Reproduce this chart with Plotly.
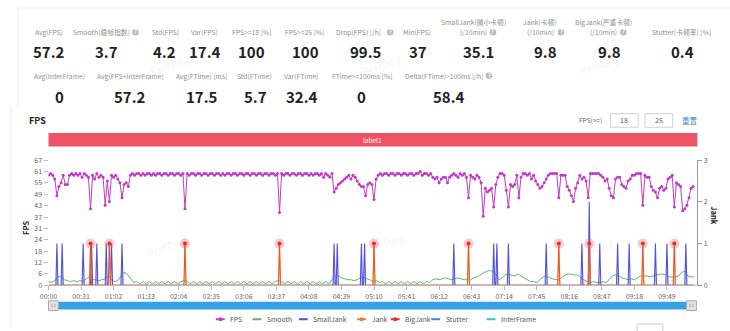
import plotly.graph_objects as go

W, H = 730, 331
def X(px): return px / W
def Y(py): return 1 - py / H

FONT = "Noto Sans CJK SC, Noto Sans, sans-serif"

# ---------------- data ----------------
fps_step = 2  # seconds between FPS samples
fps = [
    59, 60, 59, 57, 48, 53, 55, 59, 54, 54,
    59, 60, 59, 60, 59, 60, 58, 60, 59, 58,
    41, 59, 57, 60, 58, 59, 58, 43, 56, 45,
    59, 58, 59, 57, 55, 47, 54, 55, 53, 59,
    60, 59, 60, 60, 59, 60, 59, 60, 60, 59,
    60, 59, 60, 60, 59, 60, 60, 59, 60, 60,
    59, 60, 60, 59, 60, 41, 60, 59, 60, 60,
    59, 60, 60, 59, 60, 60, 59, 60, 60, 59,
    60, 60, 59, 60, 59, 60, 60, 59, 60, 60,
    59, 60, 60, 59, 60, 60, 59, 60, 60, 59,
    60, 60, 59, 60, 60, 59, 60, 60, 59, 60,
    39, 60, 59, 60, 60, 59, 60, 60, 59, 60,
    60, 59, 60, 60, 59, 60, 59, 60, 60, 59,
    60, 58, 60, 59, 58, 60, 50, 52, 54, 55,
    56, 57, 58, 59, 57, 59, 58, 56, 54, 53,
    53, 48, 54, 55, 54, 46, 57, 59, 60, 59,
    60, 60, 59, 60, 60, 59, 60, 60, 59, 60,
    60, 59, 60, 60, 59, 60, 60, 61, 59, 60,
    60, 59, 60, 58, 57, 58, 55, 57, 58, 58,
    55, 58, 59, 60, 59, 58, 60, 59, 60, 58,
    47, 59, 58, 57, 59, 58, 55, 37, 52, 50,
    51, 52, 42, 54, 58, 60, 60, 59, 51, 42,
    54, 53, 54, 59, 47, 58, 60, 60, 59, 60,
    57, 59, 56, 54, 52, 53, 55, 57, 59, 60,
    60, 60, 60, 47, 59, 59, 59, 53, 51, 48,
    45, 52, 55, 59, 57, 58, 56, 47, 60, 60,
    60, 60, 60, 59, 58, 56, 57, 52, 48, 47,
    57, 58, 58, 54, 53, 52, 56, 57, 59, 59,
    60, 60, 60, 43, 59, 58, 58, 53, 51, 50,
    47, 52, 53, 51, 52, 57, 58, 59, 42, 55,
    54, 53, 40, 41, 43, 47, 52, 53,
]

smooth_step = 3
smooth = [
    2, 1.5, 2.5, 4.5, 5, 3, 2.5, 2, 2.5, 2,
    2.5, 2, 3.5, 4.5, 3, 3, 2.5, 3, 3.5, 5,
    3, 2, 2.5, 5, 7, 6, 4, 1.5, 2, 0.8,
    2, 0.8, 2, 0.8, 2, 0.8, 2, 0.8, 2, 0.8,
    2, 0.8, 2, 2.5, 2, 0.8, 2, 0.8, 2, 0.8,
    2, 0.8, 2, 0.8, 2, 0.8, 2, 0.8, 2, 0.8,
    2, 0.8, 2, 0.8, 2, 0.8, 2, 0.8, 2, 0.8,
    2, 0.8, 2, 2.5, 2, 0.8, 2, 0.8, 2, 0.8,
    2, 0.8, 2, 0.8, 2, 0.8, 2, 0.8, 2, 0.8,
    3, 5.5, 5, 4, 3.5, 3, 3, 2.5, 3, 4,
    4.5, 3.5, 3, 2, 2.5, 1.5, 2, 0.8, 2, 0.8,
    2, 0.8, 2, 0.8, 2, 0.8, 2, 0.8, 2, 0.8,
    2, 1.5, 3, 3.5, 3, 3.5, 4, 3.5, 3, 3.5,
    4, 3.5, 3, 3.5, 3, 4, 4.5, 5.5, 6.5, 7.5,
    8, 7.5, 6, 3, 4, 5.5, 6, 5.5, 5, 6,
    5, 4, 3, 2, 2, 1.5, 3, 4.5, 5, 4,
    3.5, 3, 3, 4.5, 5.5, 6, 6, 5.5, 5.5, 4,
    3, 2, 1.5, 2, 1.5, 1.5, 2, 1.5, 3, 5,
    5.5, 5, 4, 3.5, 3, 3.5, 3, 4, 5, 5,
    5, 4.5, 5, 5.5, 6, 6, 5.5, 4.5, 4.5, 4.5,
    5, 7, 7.5, 5, 4.5, 4.5,
]

duration = 615
smalljank_times = [8, 13, 33, 41, 46, 55, 60, 70, 272, 275, 298, 301, 386, 424, 427,
                   438, 474, 508, 515, 525, 542, 553, 578, 589, 607]
smalljank_counts = [1, 1, 1, 1, 1, 1, 1, 1, 1, 1, 1, 1, 1, 1, 1,
                    1, 1, 1, 2, 1, 1, 1, 1, 1, 1]
bigjank_times = [40, 58, 130, 220, 310, 400, 486, 515, 566, 596]

xtick_secs = [0, 31, 62, 93, 124, 155, 186, 217, 248, 279, 310, 341, 372, 403, 434,
              465, 496, 527, 558, 589]
xtick_labels = ["00:00", "00:31", "01:02", "01:33", "02:04", "02:35", "03:06", "03:37",
                "04:08", "04:39", "05:10", "05:41", "06:12", "06:43", "07:14", "07:45",
                "08:16", "08:47", "09:18", "09:49"]
fps_tick_labels = ["0", "6", "12", "18", "24", "31", "37", "43", "49", "55", "61", "67"]
fps_axis_max = 67.1
jank_tick_labels = ["0", "1", "2", "3"]

row1_labels = ["Avg(FPS)", "Smooth(稳帧指数)", "Std(FPS)", "Var(FPS)", "FPS>=18 [%]",
               "FPS>=25 [%]", "Drop(FPS) [/h]", "Min(FPS)",
               "SmallJank(微小卡顿)<br>(/10min)", "Jank(卡顿)<br>(/10min)",
               "BigJank(严重卡顿)<br>(/10min)", "Stutter(卡顿率) [%]"]
row1_values = ["57.2", "3.7", "4.2", "17.4", "100", "100", "99.5", "37",
               "35.1", "9.8", "9.8", "0.4"]
row2_labels = ["Avg(InterFrame)", "Avg(FPS+InterFrame)", "Avg(FTime) [ms]", "Std(FTime)",
               "Var(FTime)", "FTime>=100ms [%]", "Delta(FTime)>100ms [/h]"]
row2_values = ["0", "57.2", "17.5", "5.7", "32.4", "0", "58.4"]

legend_names = ["FPS", "Smooth", "SmallJank", "Jank", "BigJank", "Stutter", "InterFrame"]

# ---------------- styles / positions ----------------
C_FPS = "#c23bc4"
C_SMOOTH = "#5cb85c"
C_SJ = "#5252dc"
C_JANK = "#f07a2a"
C_BJ = "#e52d2d"
C_STUT = "#3f7ff0"
C_INTER = "#2ec7dc"
legend_colors = [C_FPS, C_SMOOTH, C_SJ, C_JANK, C_BJ, C_STUT, C_INTER]
legend_marker = [True, False, False, True, True, False, False]
legend_icon_x = [214, 251, 298, 357, 391, 432, 488]

row1_lx = [40, 94, 158, 198, 246, 300, 354, 413, 470, 538, 602, 681]
row1_vx = [40, 99, 157, 198, 246, 300, 361, 414, 475, 543, 608, 682]
row2_lx = [51, 123, 195, 249, 296, 357, 440]
row2_vx = [51, 123, 195, 250, 297, 357, 445]
help_icons = [(128, 27), (386, 27), (490, 27), (559, 27), (622, 27), (486, 72)]

# ---------------- build series ----------------
fps_t = [i * fps_step for i in range(len(fps))]
smooth_t = [i * smooth_step for i in range(len(smooth))]
grid = list(range(duration + 1))
sj = [0] * len(grid)
for t, n in zip(smalljank_times, smalljank_counts):
    sj[t] = n
jk = [0] * len(grid)
for t in bigjank_times:
    jk[t] = 1

fig = go.Figure()
fig.add_trace(go.Scatter(x=smooth_t, y=smooth, mode="lines", name="Smooth",
                         line=dict(color=C_SMOOTH, width=1), yaxis="y"))
fig.add_trace(go.Scatter(x=grid, y=sj, mode="lines", name="SmallJank",
                         line=dict(color=C_SJ, width=1.1), fill="tozeroy",
                         fillcolor="rgba(82,82,220,0.22)", yaxis="y2"))
fig.add_trace(go.Scatter(x=grid, y=jk, mode="lines", name="Jank",
                         line=dict(color=C_JANK, width=1.2), yaxis="y2"))
fig.add_trace(go.Scatter(x=grid, y=jk, mode="lines", name="BigJank",
                         line=dict(color="rgba(229,45,45,0.5)", width=0.8), yaxis="y2"))
fig.add_trace(go.Scatter(x=bigjank_times, y=[jk[t] for t in bigjank_times], mode="markers",
                         marker=dict(size=10, color="rgba(240,90,90,0.33)"),
                         yaxis="y2", hoverinfo="skip"))
fig.add_trace(go.Scatter(x=bigjank_times, y=[jk[t] for t in bigjank_times], mode="markers",
                         marker=dict(size=4, color=C_BJ), yaxis="y2"))
fig.add_trace(go.Scatter(x=fps_t, y=fps, mode="lines+markers", name="FPS",
                         line=dict(color=C_FPS, width=1),
                         marker=dict(size=3, color=C_FPS), yaxis="y"))

axis_font = dict(family=FONT, size=7, color="#666")
fig.update_layout(
    width=W, height=H, margin=dict(l=0, r=0, t=0, b=0),
    paper_bgcolor="white", plot_bgcolor="white", showlegend=False,
    font=dict(family=FONT),
    xaxis=dict(domain=[X(40), X(697)], range=[0, 618], tickvals=xtick_secs,
               ticktext=xtick_labels, ticks="outside", ticklen=4, tickcolor="#bbb",
               showline=True, linecolor="#bbb", showgrid=False, zeroline=False,
               tickfont=axis_font),
    yaxis=dict(domain=[Y(288), Y(159)], range=[0, fps_axis_max],
               tickvals=[fps_axis_max / 11 * k for k in range(12)],
               ticktext=fps_tick_labels, ticks="outside", ticklen=4, tickcolor="#bbb",
               showline=False, showgrid=False, zeroline=False, tickfont=axis_font),
    yaxis2=dict(overlaying="y", side="right", range=[0, 3], tickvals=[0, 1, 2, 3],
                ticktext=jank_tick_labels, ticks="outside", ticklen=4, tickcolor="#999",
                showline=True, linecolor="#999", showgrid=False, zeroline=False,
                tickfont=axis_font),
)

shapes = []
ann = []

def text(x, y, s, size=7.5, color="#888", bold=False, anchor="center", angle=0):
    ann.append(dict(x=X(x), y=Y(y), xref="paper", yref="paper", text=(f"<b>{s}</b>" if bold else s),
                    showarrow=False, xanchor=anchor, yanchor="middle", textangle=angle,
                    font=dict(family=FONT, size=size, color=color)))

# card borders
shapes.append(dict(type="line", xref="paper", yref="paper", x0=X(9), x1=X(730), y0=Y(2), y1=Y(2),
                   line=dict(color="#ececec", width=1)))
shapes.append(dict(type="line", xref="paper", yref="paper", x0=X(9), x1=X(9), y0=Y(2), y1=Y(104),
                   line=dict(color="#ececec", width=1)))
shapes.append(dict(type="line", xref="paper", yref="paper", x0=X(2), x1=X(2), y0=Y(104), y1=Y(331),
                   line=dict(color="#ececec", width=1)))

# stats
LBL = "#8f8f8f"
for lab, lx, val, vx in zip(row1_labels, row1_lx, row1_values, row1_vx):
    if "<br>" in lab:
        a, b = lab.split("<br>")
        text(lx, 17, a, size=6.8, color=LBL)
        text(lx, 27, b, size=6.8, color=LBL)
    else:
        text(lx, 27, lab, size=6.8, color=LBL)
    text(vx, 47, val, size=15, color="#222", bold=True)
for lab, lx, val, vx in zip(row2_labels, row2_lx, row2_values, row2_vx):
    text(lx, 72, lab, size=6.8, color=LBL)
    text(vx, 93, val, size=15, color="#222", bold=True)
for cx, cy in help_icons:
    shapes.append(dict(type="circle", xref="paper", yref="paper", x0=X(cx - 3.3), x1=X(cx + 3.3),
                       y0=Y(cy + 3.3), y1=Y(cy - 3.3), fillcolor="#b3b8c6", line=dict(width=0)))
    text(cx, cy, "?", size=5.5, color="white", bold=True)

# watermarks
for wx, wy in [(163, 60), (378, 60), (598, 60), (160, 247), (380, 244), (592, 250)]:
    text(wx, wy, "PerfDog", size=11, color="rgba(0,0,0,0.07)", angle=-20)

# chart header
text(18, 118, "FPS", size=9, color="#222", bold=True, anchor="left")
text(589, 118, "FPS(>=)", size=6.5, color="#666")
for bx0, bx1, s in [(609, 637, "18"), (644, 672, "25")]:
    shapes.append(dict(type="rect", xref="paper", yref="paper", x0=X(bx0), x1=X(bx1),
                       y0=Y(125), y1=Y(111), line=dict(color="#d0d0d0", width=1), fillcolor="white"))
    text((bx0 + bx1) / 2, 118, s, size=7, color="#555")
text(689, 118, "重置", size=7.5, color="#4a78c8")

# label bar
shapes.append(dict(type="rect", xref="paper", yref="paper", x0=X(40), x1=X(697), y0=Y(145), y1=Y(131),
                   fillcolor="#ee5465", line=dict(width=0)))
text(368, 138, "label1", size=6.5, color="white")

# axis titles
text(16, 229, "FPS", size=7.5, color="#222", bold=True, angle=-90)
text(714, 216, "Jank", size=7.5, color="#222", bold=True, angle=90)

# data zoom slider
shapes.append(dict(type="rect", xref="paper", yref="paper", x0=X(42), x1=X(692), y0=Y(313), y1=Y(305),
                   fillcolor="#35a2e8", line=dict(width=0)))
for hx in (45, 691):
    shapes.append(dict(type="rect", xref="paper", yref="paper", x0=X(hx - 5), x1=X(hx + 5),
                       y0=Y(314), y1=Y(304), fillcolor="#e4e4e4", line=dict(color="#aaa", width=1)))
    shapes.append(dict(type="line", xref="paper", yref="paper", x0=X(hx - 1.5), x1=X(hx - 1.5),
                       y0=Y(311), y1=Y(307), line=dict(color="#999", width=0.8)))
    shapes.append(dict(type="line", xref="paper", yref="paper", x0=X(hx + 1.5), x1=X(hx + 1.5),
                       y0=Y(311), y1=Y(307), line=dict(color="#999", width=0.8)))

# legend
for name, col, mk, ix in zip(legend_names, legend_colors, legend_marker, legend_icon_x):
    shapes.append(dict(type="line", xref="paper", yref="paper", x0=X(ix - 4.5), x1=X(ix + 4.5),
                       y0=Y(323), y1=Y(323), line=dict(color=col, width=2)))
    if mk:
        shapes.append(dict(type="circle", xref="paper", yref="paper", x0=X(ix - 2), x1=X(ix + 2),
                           y0=Y(325), y1=Y(321), fillcolor=col, line=dict(width=0)))
    text(ix + 8, 323, name, size=6.8, color="#555", anchor="left")

# small box bottom-right
shapes.append(dict(type="rect", xref="paper", yref="paper", x0=X(636), x1=X(662), y0=Y(336), y1=Y(328),
                   line=dict(color="#ccc", width=1), fillcolor="white"))

fig.update_layout(shapes=shapes, annotations=ann)
fig.write_html("out.html")
